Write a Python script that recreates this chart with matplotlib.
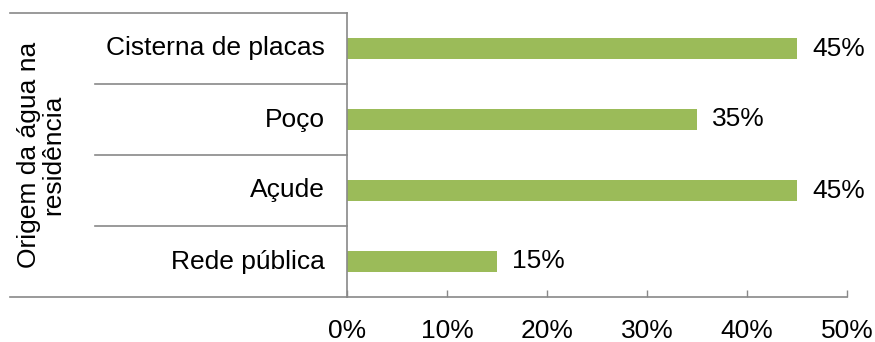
import matplotlib.pyplot as plt
from matplotlib.ticker import PercentFormatter

categories = ["Cisterna de placas", "Poço", "Açude", "Rede pública"]
values = [45, 35, 45, 15]
xticks = [0, 10, 20, 30, 40, 50]

GREEN = "#9BBB59"
GRAY = "#898989"
FS = 19

plt.rcParams["font.family"] = ["Liberation Sans", "DejaVu Sans"]

fig = plt.figure(figsize=(8.75, 3.42), dpi=100)
ax = fig.add_axes([347 / 875, 45 / 342, 500 / 875, 284 / 342])

pos = list(range(len(categories)))
ax.barh(pos, values, height=0.29, color=GREEN)
ax.set_ylim(len(categories) - 0.5, -0.5)
ax.set_xlim(0, 50)

for p, v in zip(pos, values):
    ax.annotate(f"{v}%", (v, p), xytext=(11, 0), textcoords="offset points",
                va="center", ha="left", fontsize=FS)

ax.set_xticks(xticks)
ax.xaxis.set_major_formatter(PercentFormatter(decimals=0))
ax.tick_params(axis="x", direction="in", length=5, width=1, color=GRAY,
               labelsize=FS, pad=16)
ax.set_yticks([])

for s in ["top", "right"]:
    ax.spines[s].set_visible(False)
for s in ["left", "bottom"]:
    ax.spines[s].set_color(GRAY)
    ax.spines[s].set_linewidth(1.2)

# category area on the left, Excel-style
tr = ax.transAxes
x_far = (10 - 347) / 500
x_mid = (95 - 347) / 500
ax.plot([x_far, 0], [1, 1], transform=tr, color=GRAY, lw=1.2, clip_on=False)
ax.plot([x_far, 0], [0, 0], transform=tr, color=GRAY, lw=1.2, clip_on=False)
for k in range(1, len(categories)):
    ax.plot([x_mid, 0], [k / len(categories)] * 2, transform=tr, color=GRAY,
            lw=1.2, clip_on=False)

for p, c in zip(pos, categories):
    ax.text((325 - 347) / 500, p, c, transform=ax.get_yaxis_transform(),
            ha="right", va="center", fontsize=FS)

ax.text((41 - 347) / 500, 0.5, "Origem da água na\nresidência", transform=tr,
        rotation=90, ha="center", va="center", fontsize=FS, linespacing=1.05)

fig.savefig("out.png", dpi=100)
